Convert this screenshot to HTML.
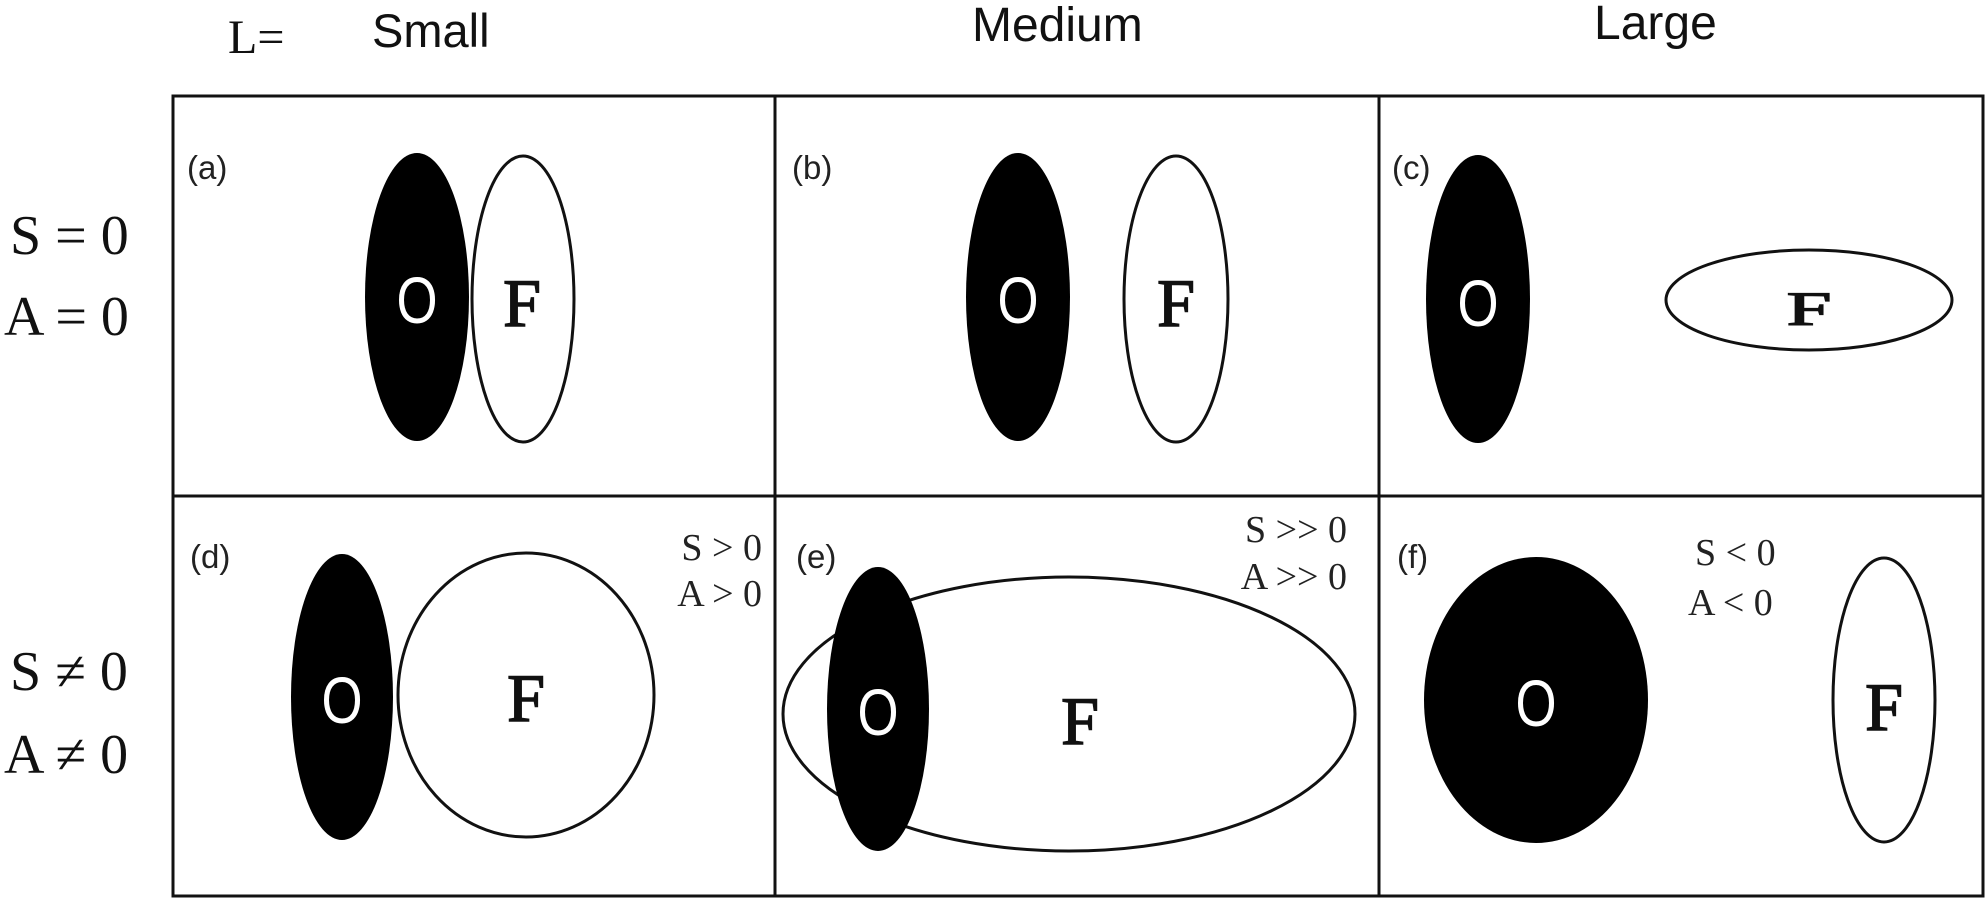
<!DOCTYPE html>
<html><head><meta charset="utf-8"><style>
html,body{margin:0;padding:0;background:#fff;}
svg{display:block;}
.serif{font-family:"Liberation Serif",serif;}
.sans{font-family:"Liberation Sans",sans-serif;}
</style></head><body>
<svg width="1988" height="905" viewBox="0 0 1988 905" xmlns="http://www.w3.org/2000/svg">
<rect width="1988" height="905" fill="#fff"/>
<!-- headers -->
<text x="228" y="53" class="serif" font-size="48" fill="#111">L=</text>
<text x="372" y="47" class="sans" font-size="47" fill="#111">Small</text>
<text x="972" y="41" class="sans" font-size="48" fill="#111">Medium</text>
<text x="1594" y="39" class="sans" font-size="48" fill="#111">Large</text>
<text x="10" y="254" class="serif" font-size="56" fill="#111">S = 0</text>
<text x="4" y="335" class="serif" font-size="56" fill="#111">A = 0</text>
<text x="10" y="690" class="serif" font-size="56" fill="#111">S ≠ 0</text>
<text x="4" y="773" class="serif" font-size="56" fill="#111">A ≠ 0</text>
<!-- grid -->
<g stroke="#111" stroke-width="3" fill="none">
<rect x="173" y="96" width="1810" height="800"/>
<line x1="173" y1="496" x2="1983" y2="496"/>
<line x1="775" y1="96" x2="775" y2="896"/>
<line x1="1379" y1="96" x2="1379" y2="896"/>
</g>
<!-- panel labels -->
<g class="sans" font-size="33" fill="#222">
<text x="187" y="179">(a)</text>
<text x="792" y="179">(b)</text>
<text x="1392" y="179">(c)</text>
<text x="190" y="568">(d)</text>
<text x="796" y="568">(e)</text>
<text x="1397" y="568">(f)</text>
</g>
<g class="sans" font-size="66" fill="#fff" text-anchor="middle">
</g>
<!-- (a) -->
<ellipse cx="417" cy="297" rx="52" ry="144" fill="#000"/>
<ellipse cx="523" cy="299" rx="51" ry="143" fill="#fff" stroke="#111" stroke-width="3"/>
<text transform="translate(417,323) scale(0.8,1)" text-anchor="middle" class="sans" font-size="66" fill="#fff">O</text>
<text x="522" y="326" text-anchor="middle" class="serif" font-size="68" fill="#111" stroke="#111" stroke-width="1.5">F</text>
<!-- (b) -->
<ellipse cx="1018" cy="297" rx="52" ry="144" fill="#000"/>
<ellipse cx="1176" cy="299" rx="52" ry="143" fill="#fff" stroke="#111" stroke-width="3"/>
<text transform="translate(1018,323) scale(0.8,1)" text-anchor="middle" class="sans" font-size="66" fill="#fff">O</text>
<text x="1176" y="326" text-anchor="middle" class="serif" font-size="68" fill="#111" stroke="#111" stroke-width="1.5">F</text>
<!-- (c) -->
<ellipse cx="1478" cy="299" rx="52" ry="144" fill="#000"/>
<ellipse cx="1809" cy="300" rx="143" ry="50" fill="#fff" stroke="#111" stroke-width="3"/>
<text transform="translate(1478,326) scale(0.8,1)" text-anchor="middle" class="sans" font-size="66" fill="#fff">O</text>
<text transform="translate(1809,325) scale(1.35,0.8)" x="0" y="0" text-anchor="middle" class="serif" font-size="60" fill="#111" stroke="#111" stroke-width="1.5">F</text>
<!-- (d) -->
<ellipse cx="342" cy="697" rx="51" ry="143" fill="#000"/>
<ellipse cx="526" cy="695" rx="128" ry="142" fill="#fff" stroke="#111" stroke-width="3"/>
<text transform="translate(342,723) scale(0.8,1)" text-anchor="middle" class="sans" font-size="66" fill="#fff">O</text>
<text x="526" y="721" text-anchor="middle" class="serif" font-size="68" fill="#111" stroke="#111" stroke-width="1.5">F</text>
<g class="serif" font-size="38" fill="#222" text-anchor="end">
<text x="762" y="560">S &gt; 0</text>
<text x="762" y="606">A &gt; 0</text>
</g>
<!-- (e) -->
<ellipse cx="1069" cy="714" rx="286" ry="137" fill="#fff" stroke="#111" stroke-width="3"/>
<ellipse cx="878" cy="709" rx="51" ry="142" fill="#000"/>
<text transform="translate(878,735) scale(0.8,1)" text-anchor="middle" class="sans" font-size="66" fill="#fff">O</text>
<text x="1080" y="744" text-anchor="middle" class="serif" font-size="68" fill="#111" stroke="#111" stroke-width="1.5">F</text>
<g class="serif" font-size="38" fill="#222" text-anchor="end">
<text x="1347" y="542">S &gt;&gt; 0</text>
<text x="1347" y="589">A &gt;&gt; 0</text>
</g>
<!-- (f) -->
<ellipse cx="1536" cy="700" rx="112" ry="143" fill="#000"/>
<ellipse cx="1884" cy="700" rx="51" ry="142" fill="#fff" stroke="#111" stroke-width="3"/>
<text transform="translate(1536,726) scale(0.8,1)" text-anchor="middle" class="sans" font-size="66" fill="#fff">O</text>
<text x="1884" y="730" text-anchor="middle" class="serif" font-size="68" fill="#111" stroke="#111" stroke-width="1.5">F</text>
<g class="serif" font-size="38" fill="#222">
<text x="1695" y="565">S &lt; 0</text>
<text x="1688" y="615">A &lt; 0</text>
</g>
</svg>
</body></html>
